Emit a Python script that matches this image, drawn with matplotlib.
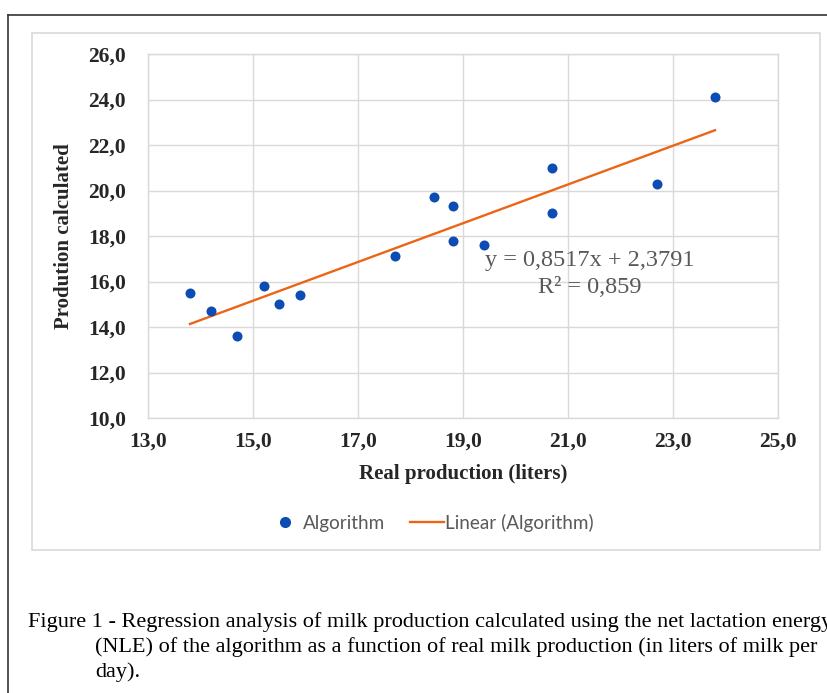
import matplotlib
matplotlib.use("Agg")
import matplotlib.pyplot as plt
from matplotlib.lines import Line2D
from matplotlib.patches import Rectangle
import numpy as np

real_production = [13.8, 14.2, 14.7, 15.2, 15.5, 15.9, 17.7, 18.45, 18.8, 18.8, 19.4, 20.7, 20.7, 22.7, 23.8]
calculated = [15.5, 14.7, 13.6, 15.8, 15.0, 15.4, 17.1, 19.7, 19.3, 17.8, 17.6, 21.0, 19.0, 20.3, 24.1]
slope = 0.8517
intercept = 2.3791
r_squared = "0,859"
x_ticks = [13, 15, 17, 19, 21, 23, 25]
y_ticks = [10, 12, 14, 16, 18, 20, 22, 24, 26]

def comma(v):
    return f"{v:.1f}".replace(".", ",")

fig = plt.figure(figsize=(8.27, 6.93), dpi=100)
W, H = 827, 693

def fx(px):
    return px / W

def fy(py):
    return 1 - py / H

# outer frame (cut off at right / bottom)
fig.add_artist(Line2D([fx(8), fx(8)], [fy(15), 0], color="#333333", lw=1.2, transform=fig.transFigure))
fig.add_artist(Line2D([fx(8), 1.0], [fy(15), fy(15)], color="#333333", lw=1.2, transform=fig.transFigure))
# chart area box
fig.add_artist(Rectangle((fx(32), fy(550)), fx(820) - fx(32), fy(33) - fy(550),
                         fill=False, edgecolor="#d9d9d9", lw=1.2, transform=fig.transFigure))

ax = fig.add_axes([fx(148), fy(418), fx(778) - fx(148), fy(54) - fy(418)])
ax.set_xlim(13, 25)
ax.set_ylim(10, 26)
ax.set_xticks(x_ticks)
ax.set_yticks(y_ticks)
ax.set_xticklabels([comma(v) for v in x_ticks])
ax.set_yticklabels([comma(v) for v in y_ticks])
ax.grid(True, color="#d9d9d9", lw=1.0)
ax.set_axisbelow(True)
for s in ax.spines.values():
    s.set_color("#d9d9d9")
    s.set_linewidth(1.0)
ax.tick_params(length=0)
ax.tick_params(axis="y", pad=16)
ax.tick_params(axis="x", pad=10)
for lab in ax.get_xticklabels() + ax.get_yticklabels():
    lab.set_fontfamily("Liberation Serif")
    lab.set_fontweight("bold")
    lab.set_fontsize(15.5)
    lab.set_color("#262626")

sc = ax.scatter(real_production, calculated, s=52, color="#0c4cb3", zorder=3, linewidths=0)
xs = np.array([min(real_production), max(real_production)])
ln, = ax.plot(xs, slope * xs + intercept, color="#ec6517", lw=1.7, zorder=2)

ax.text(21.42, 16.92, "y = 0,8517x + 2,3791", ha="center", va="center",
        fontfamily="Liberation Serif", fontsize=17.5, color="#595959")
ax.text(21.42, 15.73, f"R² = {r_squared}", ha="center", va="center",
        fontfamily="Liberation Serif", fontsize=17.5, color="#595959")

ax.set_xlabel("Real production (liters)", fontfamily="Liberation Serif", fontweight="bold",
              fontsize=15, color="#262626", labelpad=9)
ax.set_ylabel("Prodution calculated", fontfamily="Liberation Serif", fontweight="bold",
              fontsize=15, color="#262626", labelpad=10)

h1 = Line2D([], [], marker="o", ls="none", color="#0c4cb3", markersize=7)
h2 = Line2D([], [], color="#ec6517", lw=1.7)
leg = fig.legend([h1, h2], ["Algorithm", "Linear (Algorithm)"], loc="center",
                 bbox_to_anchor=(fx(431), fy(523)), ncol=2, frameon=False,
                 prop={"family": "Lato", "size": 13.6}, handlelength=1.8,
                 handletextpad=0.05, columnspacing=1.3)
for t in leg.get_texts():
    t.set_color("#595959")

cap_kw = dict(fontfamily="Liberation Serif", fontsize=16, color="black", va="center", ha="left")
fig.text(fx(28), fy(622), "Figure 1 - Regression analysis of milk production calculated using the net lactation energy", **cap_kw)
fig.text(fx(95), fy(647), "(NLE) of the algorithm as a function of real milk production (in liters of milk per", **cap_kw)
fig.text(fx(95), fy(672), "day).", **cap_kw)

fig.savefig("out.png", dpi=100)
